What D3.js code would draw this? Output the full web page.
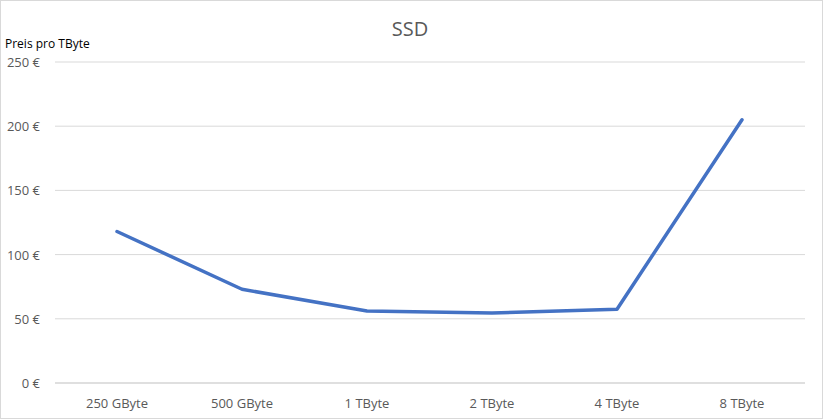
<!DOCTYPE html>
<html><head><meta charset="utf-8">
<script src="https://cdn.jsdelivr.net/npm/d3@7"></script>
<style>body{margin:0;background:#fff;font-family:"Open Sans",Calibri,sans-serif}</style>
</head><body><svg id="c" width="823" height="419"></svg>
<script>
const categories=["250 GByte","500 GByte","1 TByte","2 TByte","4 TByte","8 TByte"];
const values=[118,73,56,54.5,57.5,205];
const yTicks=[0,50,100,150,200,250];
const svg=d3.select("#c");
svg.append("rect").attr("x",0.5).attr("y",0.5).attr("width",822).attr("height",418).attr("fill","none").attr("stroke","#d9d9d9");
const x=d3.scalePoint().domain(categories).range([117,742]);
const y=d3.scaleLinear().domain([0,250]).range([383,62]);
svg.append("g").selectAll("line").data(yTicks).join("line")
 .attr("x1",55).attr("x2",805).attr("y1",d=>y(d)).attr("y2",d=>y(d))
 .attr("stroke",d=>d===0?"#bfbfbf":"#d9d9d9");
svg.append("g").selectAll("text").data(yTicks).join("text")
 .attr("x",40).attr("y",d=>y(d)+5).attr("text-anchor","end").attr("font-size",13).attr("fill","#595959")
 .text(d=>d+" €");
svg.append("g").selectAll("text").data(categories).join("text")
 .attr("x",d=>x(d)).attr("y",408).attr("text-anchor","middle").attr("font-size",13).attr("fill","#595959").text(d=>d);
svg.append("path").datum(values).attr("fill","none").attr("stroke","#4472c4").attr("stroke-width",3.5)
 .attr("stroke-linejoin","round").attr("stroke-linecap","round")
 .attr("d",d3.line().x((d,i)=>x(categories[i])).y(d=>y(d)));
svg.append("text").attr("x",410).attr("y",36).attr("text-anchor","middle").attr("font-size",20).attr("fill","#595959").text("SSD");
svg.append("text").attr("x",5).attr("y",48).attr("font-size",12).attr("fill","#000").text("Preis pro TByte");
</script></body></html>
